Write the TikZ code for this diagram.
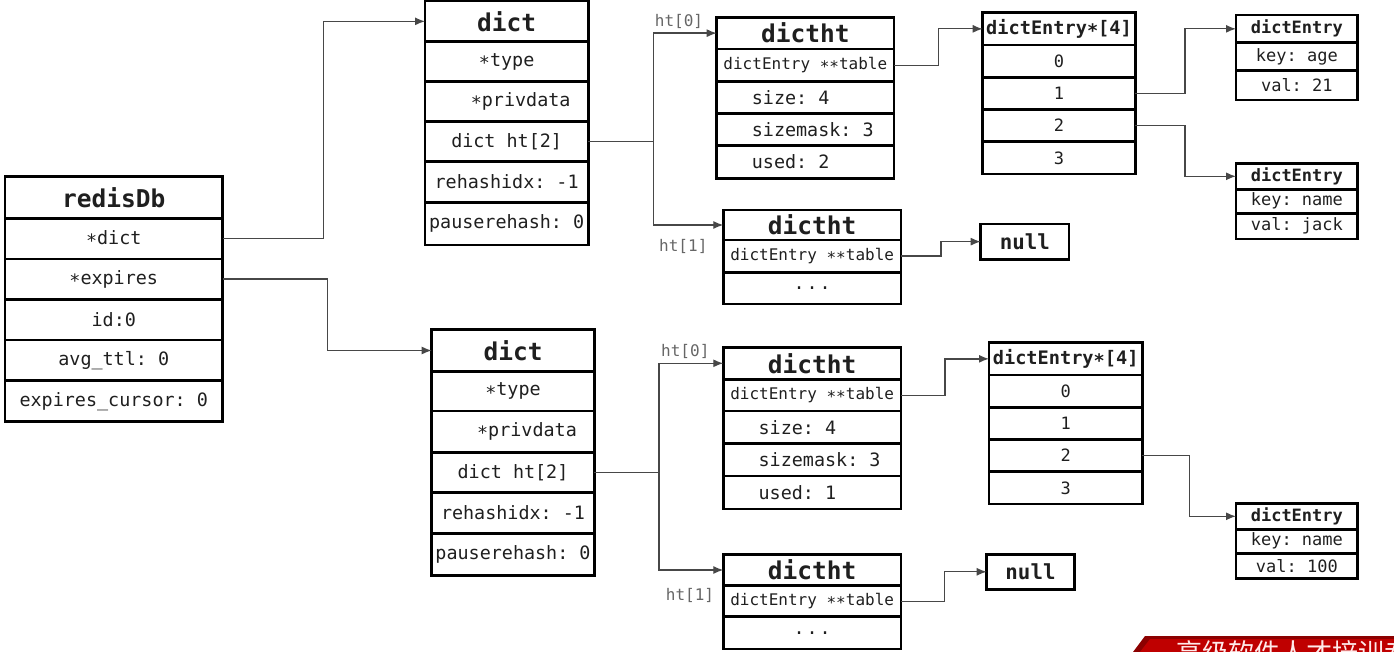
\documentclass[tikz,border=0pt]{standalone}
\usepackage{fontspec}
\setmonofont{DejaVu Sans Mono}
\newfontfamily\cjk{Noto Sans CJK SC}
\usetikzlibrary{arrows.meta}
\newcommand\sta{\raisebox{-0.32ex}{*}}
\newcommand\mydots{.\hspace{2pt}.\hspace{2pt}.}
\newcommand\mycell[7]{%
  \pgfmathsetmacro\cw{#4-#2}\pgfmathsetmacro\ch{#5-#3}%
  \pgfmathsetmacro\cx{(#2+#4)/2}\pgfmathsetmacro\cy{(#3+#5)/2}%
  \node[#6, minimum width=\cw pt, minimum height=\ch pt] (#1) at (\cx,\cy) {#7};}
\tikzset{
 box/.style={draw=black, line width=2.8pt, inner sep=0pt, outer sep=0pt, text=black!88},
 rowA/.style={box, font=\ttfamily\fontsize{18.4}{20}\selectfont},
 rowS/.style={box, font=\ttfamily\fontsize{16}{18}\selectfont},
 rowE/.style={box, font=\ttfamily\fontsize{17}{19}\selectfont},
 headL/.style={box, font=\ttfamily\bfseries\fontsize{24.5}{26}\selectfont},
 headM/.style={box, font=\ttfamily\bfseries\fontsize{18.6}{20}\selectfont},
 headE/.style={box, font=\ttfamily\bfseries\fontsize{17}{19}\selectfont},
 headN/.style={box, font=\ttfamily\bfseries\fontsize{20.8}{22}\selectfont},
 conn/.style={draw=black!72, line width=1.3pt, -{Latex[length=10pt,width=8pt]}},
 htlab/.style={text=black!60, font=\ttfamily\fontsize{16}{18}\selectfont, inner sep=0pt},
}
\begin{document}
\begin{tikzpicture}[x=1pt,y=-1pt]
\useasboundingbox (0,0) rectangle (1394,652);
% redisDb
\mycell{rd-h}{5}{176.7}{222.5}{218.3}{headL}{redisDb}
\mycell{rd-dict}{5}{218.3}{222.5}{259}{rowA}{\sta dict}
\mycell{rd-exp}{5}{259}{222.5}{299.3}{rowA}{\sta expires}
\mycell{rd-id}{5}{299.3}{222.5}{340}{rowA}{id:0}
\mycell{rd-avg}{5}{340}{222.5}{380.7}{rowA}{avg\_ttl: 0}
\mycell{rd-cur}{5}{380.7}{222.5}{421.7}{rowA}{expires\_cursor: 0}
% dict 1
\mycell{d1-h}{425}{1}{588.3}{41.7}{headL}{dict}
\mycell{d1-type}{425}{41.7}{588.3}{81.7}{rowA}{\sta type}
\mycell{d1-priv}{425}{81.7}{588.3}{121.7}{rowA}{\hspace*{28pt}\sta privdata}
\mycell{d1-ht}{425}{121.7}{588.3}{161.7}{rowA}{dict ht[2]}
\mycell{d1-rh}{425}{161.7}{588.3}{202.3}{rowA}{rehashidx: -1}
\mycell{d1-pr}{425}{202.3}{588.3}{245}{rowA}{pauserehash: 0}
% dict 2
\mycell{d2-h}{431.7}{329.3}{594.3}{371.7}{headL}{dict}
\mycell{d2-type}{431.7}{371.7}{594.3}{411}{rowA}{\sta type}
\mycell{d2-priv}{431.7}{411}{594.3}{452.3}{rowA}{\hspace*{28pt}\sta privdata}
\mycell{d2-ht}{431.7}{452.3}{594.3}{492.3}{rowA}{dict ht[2]}
\mycell{d2-rh}{431.7}{492.3}{594.3}{533.3}{rowA}{rehashidx: -1}
\mycell{d2-pr}{431.7}{533.3}{594.3}{575.7}{rowA}{pauserehash: 0}
% dictht 0 (top)
\mycell{t0-h}{716.7}{17.3}{894}{49}{headL}{dictht}
\mycell{t0-tab}{716.7}{49}{894}{81.7}{rowS}{dictEntry \sta\sta table}
\mycell{t0-size}{716.7}{81.7}{894}{113.3}{rowA}{\makebox[177pt][l]{\hspace*{35pt}size: 4}}
\mycell{t0-mask}{716.7}{113.3}{894}{145.7}{rowA}{\makebox[177pt][l]{\hspace*{35pt}sizemask: 3}}
\mycell{t0-used}{716.7}{145.7}{894}{178.3}{rowA}{\makebox[177pt][l]{\hspace*{35pt}used: 2}}
% dictht 1 (top)
\mycell{t1-h}{723.3}{210}{901}{240}{headL}{dictht}
\mycell{t1-tab}{723.3}{240}{901}{272.3}{rowS}{dictEntry \sta\sta table}
\mycell{t1-dots}{723.3}{272.3}{901}{304}{rowA}{\mydots}
% dictht 2 (bottom)
\mycell{t2-h}{723.3}{347.3}{901}{379.3}{headL}{dictht}
\mycell{t2-tab}{723.3}{379.3}{901}{411}{rowS}{dictEntry \sta\sta table}
\mycell{t2-size}{723.3}{411}{901}{443.3}{rowA}{\makebox[177pt][l]{\hspace*{35pt}size: 4}}
\mycell{t2-mask}{723.3}{443.3}{901}{476}{rowA}{\makebox[177pt][l]{\hspace*{35pt}sizemask: 3}}
\mycell{t2-used}{723.3}{476}{901}{509}{rowA}{\makebox[177pt][l]{\hspace*{35pt}used: 1}}
% dictht 3 (bottom)
\mycell{t3-h}{723.3}{554.3}{901}{585.7}{headL}{dictht}
\mycell{t3-tab}{723.3}{585.7}{901}{616.7}{rowS}{dictEntry \sta\sta table}
\mycell{t3-dots}{723.3}{616.7}{901}{649}{rowA}{\mydots}
% dictEntry*[4] top
\mycell{a0-h}{982.7}{12.7}{1135.3}{45}{headM}{dictEntry\sta[4]}
\mycell{a0-0}{982.7}{45}{1135.3}{77.3}{rowE}{0}
\mycell{a0-1}{982.7}{77.3}{1135.3}{109.3}{rowE}{1}
\mycell{a0-2}{982.7}{109.3}{1135.3}{141.7}{rowE}{2}
\mycell{a0-3}{982.7}{141.7}{1135.3}{174}{rowE}{3}
% dictEntry*[4] bottom
\mycell{a1-h}{989}{342.7}{1142.3}{375}{headM}{dictEntry\sta[4]}
\mycell{a1-0}{989}{375}{1142.3}{407.3}{rowE}{0}
\mycell{a1-1}{989}{407.3}{1142.3}{439.3}{rowE}{1}
\mycell{a1-2}{989}{439.3}{1142.3}{471.7}{rowE}{2}
\mycell{a1-3}{989}{471.7}{1142.3}{504}{rowE}{3}
% entries
\mycell{e1-h}{1236}{15}{1357.7}{42.7}{headE}{dictEntry}
\mycell{e1-k}{1236}{42.7}{1357.7}{70.7}{rowE}{key: age}
\mycell{e1-v}{1236}{70.7}{1357.7}{100}{rowE}{val: 21}
\mycell{e2-h}{1236}{163.3}{1357.7}{189.3}{headE}{dictEntry}
\mycell{e2-k}{1236}{189.3}{1357.7}{213.3}{rowE}{key: name}
\mycell{e2-v}{1236}{213.3}{1357.7}{239}{rowE}{val: jack}
\mycell{e3-h}{1236}{503.3}{1357.7}{529.3}{headE}{dictEntry}
\mycell{e3-k}{1236}{529.3}{1357.7}{553.3}{rowE}{key: name}
\mycell{e3-v}{1236}{553.3}{1357.7}{578.3}{rowE}{val: 100}
% nulls
\mycell{n1}{980.7}{224}{1069}{259.3}{headN}{null}
\mycell{n2}{986.7}{554.3}{1074.3}{589.3}{headN}{null}
% connectors
\draw[conn] (rd-dict.east) -- ++(101,0) |- (d1-h.west);
\draw[conn] (rd-exp.east) -- ++(105,0) |- (d2-h.west);
\draw[conn] (d1-ht.east) -- ++(65.5,0) |- (t0-h.west);
\draw[conn] (d1-ht.east) -- ++(65.5,0) |- (t1-h.west);
\draw[conn] (d2-ht.east) -- ++(64.7,0) |- (t2-h.west);
\draw[conn] (d2-ht.east) -- ++(64.7,0) |- (t3-h.west);
\draw[conn] (t0-tab.east) -- ++(44.3,0) |- (a0-h.west);
\draw[conn] (t1-tab.east) -- ++(40,0) |- (n1.west);
\draw[conn] (a0-1.east) -- ++(49.7,0) |- (e1-h.west);
\draw[conn] (a0-2.east) -- ++(49.7,0) |- (e2-h.west);
\draw[conn] (t2-tab.east) -- ++(44,0) |- (a1-h.west);
\draw[conn] (t3-tab.east) -- ++(43.3,0) |- (n2.west);
\draw[conn] (a1-2.east) -- ++(47,0) |- (e3-h.west);
% ht labels
\node[htlab] (l0a) at (679,21.7) {ht[0]};
\node[htlab] (l1a) at (683.3,246.7) {ht[1]};
\node[htlab] (l0b) at (685.3,351.7) {ht[0]};
\node[htlab] (l1b) at (690,595) {ht[1]};
% banner
\begin{scope}
\clip (1133,652) -- (1145,636) -- (1394,636) -- (1394,652) -- cycle;
\fill[red!55!black] (1133,652) -- (1145,636) -- (1394,636) -- (1394,652) -- cycle;
\fill[red!75!black] (1140,652) -- (1150,639) -- (1394,639) -- (1394,652) -- cycle;
\node[anchor=north west, inner sep=0pt, text=red!8, font=\cjk\fontsize{26}{28}\selectfont] (ban) at (1176,640) {高级软件人才培训专家};
\end{scope}
\end{tikzpicture}
\end{document}
